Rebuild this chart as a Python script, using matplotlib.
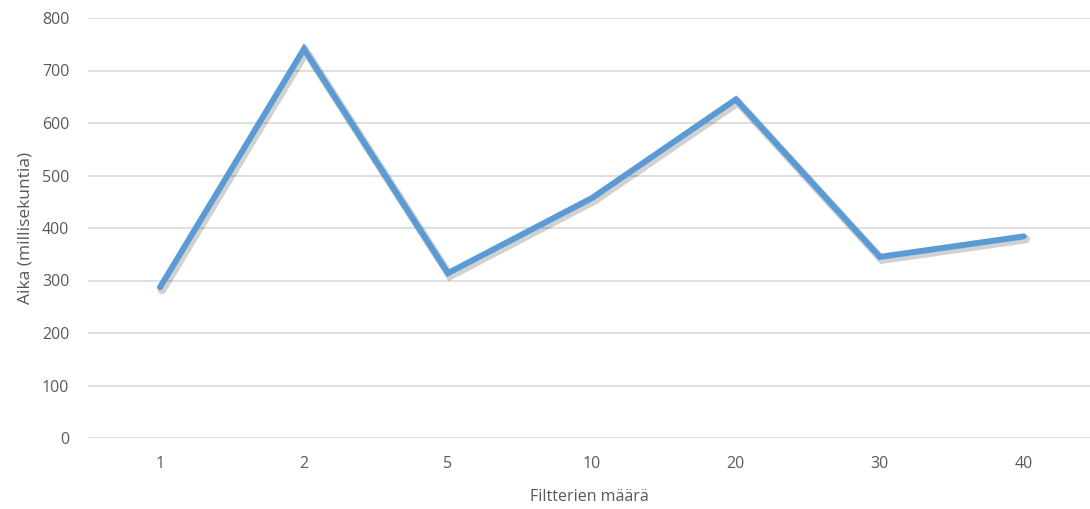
import matplotlib
matplotlib.use("Agg")
import matplotlib.pyplot as plt
import matplotlib.patheffects as pe

# Filtterien määrä ja mitatut ajat (ms)
categories = ["1", "2", "5", "10", "20", "30", "40"]
times = [287, 741, 314, 457, 645, 345, 384]

plt.rcParams['font.family'] = ['Open Sans', 'DejaVu Sans']
text_color = '#595959'

fig = plt.figure(figsize=(10.9, 5.09), dpi=100)
ax = fig.add_axes([88 / 1090, 71 / 509, 1 - 88 / 1090, 420 / 509])

x = range(len(categories))
ax.plot(x, times, color='#5B9BD5', lw=4.3, solid_joinstyle='miter', solid_capstyle='round',
        path_effects=[pe.SimpleLineShadow(offset=(1.5, -2), shadow_color='#000000', alpha=0.18, linewidth=6),
                      pe.Normal()], zorder=3)

ax.set_ylim(0, 800)
ax.set_xlim(-0.5, 6.46)
ax.set_yticks(range(0, 801, 100))
ax.set_xticks(list(x))
ax.set_xticklabels(categories)
ax.grid(axis='y', color='#d9d9d9', lw=1.2)
ax.set_axisbelow(True)
for s in ax.spines.values():
    s.set_visible(False)
ax.tick_params(length=0, colors=text_color, labelsize=11.5)
ax.tick_params(axis='y', pad=13.5)
ax.tick_params(axis='x', pad=13)

ax.set_xlabel('Filtterien määrä', color=text_color, fontsize=11.5, labelpad=12)
ax.set_ylabel('Aika (millisekuntia)', color=text_color, fontsize=12.5, labelpad=6)

fig.savefig('out.png', dpi=100)
